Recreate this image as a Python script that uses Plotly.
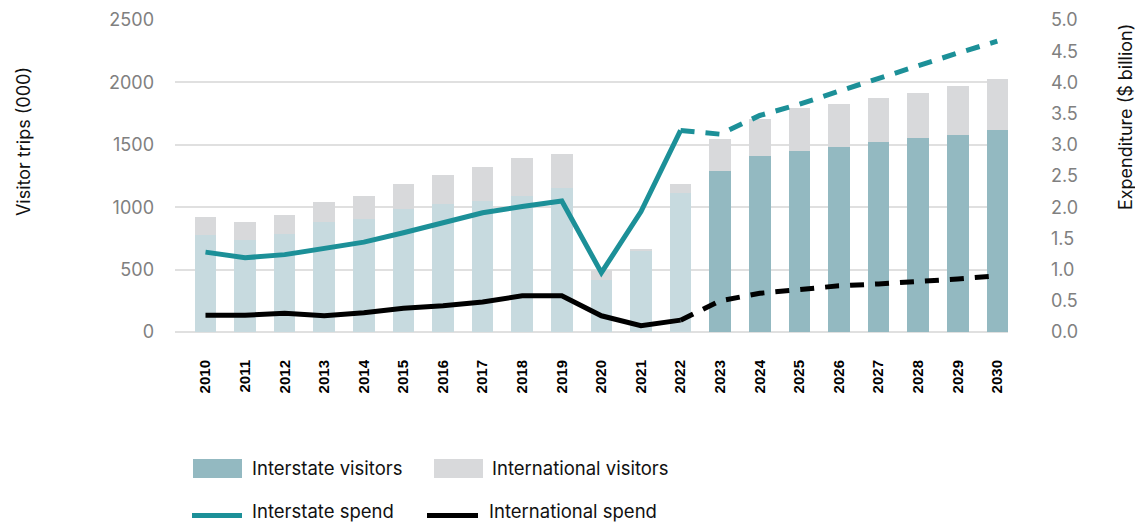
import plotly.graph_objects as go

# ---------------- data ----------------
years = list(range(2010, 2031))
year_labels = [str(y) for y in years]
forecast_start = 2023

interstate_visitors = [776, 735, 784, 880, 904, 982, 1027, 1048, 1091, 1150,
                       415, 647, 1110, 1289, 1409, 1449, 1479, 1522, 1554, 1580, 1619]
international_visitors = [142, 147, 150, 158, 184, 203, 230, 273, 302, 275,
                          85, 22, 72, 257, 297, 343, 350, 355, 363, 393, 408]

hist_years = list(range(2010, 2023))
interstate_spend_hist = [1.28, 1.19, 1.24, 1.33, 1.44, 1.59, 1.76, 1.91, 2.01, 2.10,
                         0.95, 1.93, 3.23]
international_spend_hist = [0.27, 0.27, 0.30, 0.26, 0.31, 0.38, 0.42, 0.48, 0.58, 0.58,
                            0.26, 0.10, 0.19]

fc_years = list(range(2022, 2031))
interstate_spend_fc = [3.23, 3.17, 3.47, 3.65, 3.86, 4.07, 4.26, 4.47, 4.66]
international_spend_fc = [0.19, 0.50, 0.62, 0.69, 0.74, 0.77, 0.80, 0.85, 0.90]

# ---------------- styles ----------------
C_INT_HIST = "#c7dadf"
C_INT_FC = "#93b9c1"
C_INTL = "#d8d9db"
C_TEAL = "#1c9098"
C_BLACK = "#000000"
FONT = "Inter"

interstate_colors = [C_INT_FC if y >= forecast_start else C_INT_HIST for y in years]

fig = go.Figure()
fig.add_trace(go.Bar(x=years, y=interstate_visitors, name="Interstate visitors",
                     marker=dict(color=interstate_colors, line=dict(width=0)),
                     width=0.545, showlegend=False, hoverinfo="skip"))
fig.add_trace(go.Bar(x=years, y=international_visitors, name="International visitors",
                     marker=dict(color=C_INTL, line=dict(width=0)),
                     width=0.545, showlegend=False, hoverinfo="skip"))

fig.add_trace(go.Scatter(x=hist_years, y=interstate_spend_hist, yaxis="y2", mode="lines",
                         line=dict(color=C_TEAL, width=5), showlegend=False,
                         name="Interstate spend", hoverinfo="skip"))
fig.add_trace(go.Scatter(x=fc_years, y=interstate_spend_fc, yaxis="y2", mode="lines",
                         line=dict(color=C_TEAL, width=5, dash="14px,11px"), showlegend=False,
                         name="Interstate spend (forecast)", hoverinfo="skip"))
fig.add_trace(go.Scatter(x=hist_years, y=international_spend_hist, yaxis="y2", mode="lines",
                         line=dict(color=C_BLACK, width=5), showlegend=False,
                         name="International spend", hoverinfo="skip"))
fig.add_trace(go.Scatter(x=fc_years, y=international_spend_fc, yaxis="y2", mode="lines",
                         line=dict(color=C_BLACK, width=5, dash="14px,11px"), showlegend=False,
                         name="International spend (forecast)", hoverinfo="skip"))

# plot area in page pixels (page body has an 8px margin)
OFF = 8
L, R, T, B = 175, 1008, 20, 331.7
W, H = 1143 - OFF, 524 - OFF


def px(xp):
    return (xp - L) / (R - L)


def py(yp):
    return (B - yp) / (B - T)


shapes = []
annotations = []

# custom legend
legend_items = [
    ("rect", C_INT_FC, 193, 242, 468, "Interstate visitors", 250),
    ("rect", C_INTL, 434, 483, 468, "International visitors", 490),
    ("line", C_TEAL, 192, 242, 515, "Interstate spend", 250),
    ("line", C_BLACK, 427, 478, 515, "International spend", 487),
]
for kind, col, x0, x1, yc, label, tx in legend_items:
    if kind == "rect":
        shapes.append(dict(type="rect", xref="paper", yref="paper",
                           x0=px(x0), x1=px(x1), y0=py(yc + 9.5), y1=py(yc - 9.5),
                           fillcolor=col, line=dict(width=0)))
        ty = yc
    else:
        shapes.append(dict(type="line", xref="paper", yref="paper",
                           x0=px(x0), x1=px(x1), y0=py(yc), y1=py(yc),
                           line=dict(color=col, width=5)))
        ty = yc - 4
    annotations.append(dict(text=label, xref="paper", yref="paper", x=px(tx), y=py(ty),
                            xanchor="left", yanchor="middle", showarrow=False,
                            font=dict(family=FONT, size=18.5, color="#111111")))

# axis titles
annotations.append(dict(text="Visitor trips (000)", xref="paper", yref="paper",
                        x=px(23), y=py(142), textangle=-90, showarrow=False,
                        xanchor="center", yanchor="middle",
                        font=dict(family=FONT, size=18, color="#111111")))
annotations.append(dict(text="Expenditure ($ billion)", xref="paper", yref="paper",
                        x=px(1125), y=py(117), textangle=-90, showarrow=False,
                        xanchor="center", yanchor="middle",
                        font=dict(family=FONT, size=18, color="#111111")))

fig.update_layout(
    width=W, height=H, autosize=False,
    margin=dict(l=L - OFF, r=W - (R - OFF), t=T - OFF, b=H - (B - OFF), autoexpand=False),
    paper_bgcolor="white", plot_bgcolor="white",
    barmode="stack", bargap=0,
    shapes=shapes, annotations=annotations,
    showlegend=False,
    xaxis=dict(range=[2009.23, 2030.27], tickvals=years, ticktext=year_labels,
               tickangle=-90, showgrid=False, zeroline=False, showline=False,
               ticks="", ticklabelstandoff=24, automargin=False,
               tickfont=dict(family="Liberation Sans", size=15, color="#000000", weight="bold")),
    yaxis=dict(range=[0, 2500], tickvals=[0, 500, 1000, 1500, 2000, 2500],
               showgrid=True, gridcolor="#e0e0e0", gridwidth=1.5,
               zeroline=True, zerolinecolor="#e0e0e0", zerolinewidth=1.5,
               showline=False, ticks="", ticklabelstandoff=20, automargin=False,
               tickfont=dict(family=FONT, size=18, color="#808080")),
    yaxis2=dict(range=[0, 5], overlaying="y", side="right",
                tickvals=[0, 0.5, 1, 1.5, 2, 2.5, 3, 3.5, 4, 4.5, 5],
                ticktext=["0.0", "0.5", "1.0", "1.5", "2.0", "2.5", "3.0", "3.5", "4.0", "4.5", "5.0"],
                showgrid=False, zeroline=False, showline=False, ticks="",
                ticklabelstandoff=42, automargin=False,
                tickfont=dict(family=FONT, size=18, color="#808080")),
)

fig.write_html("out.html")
